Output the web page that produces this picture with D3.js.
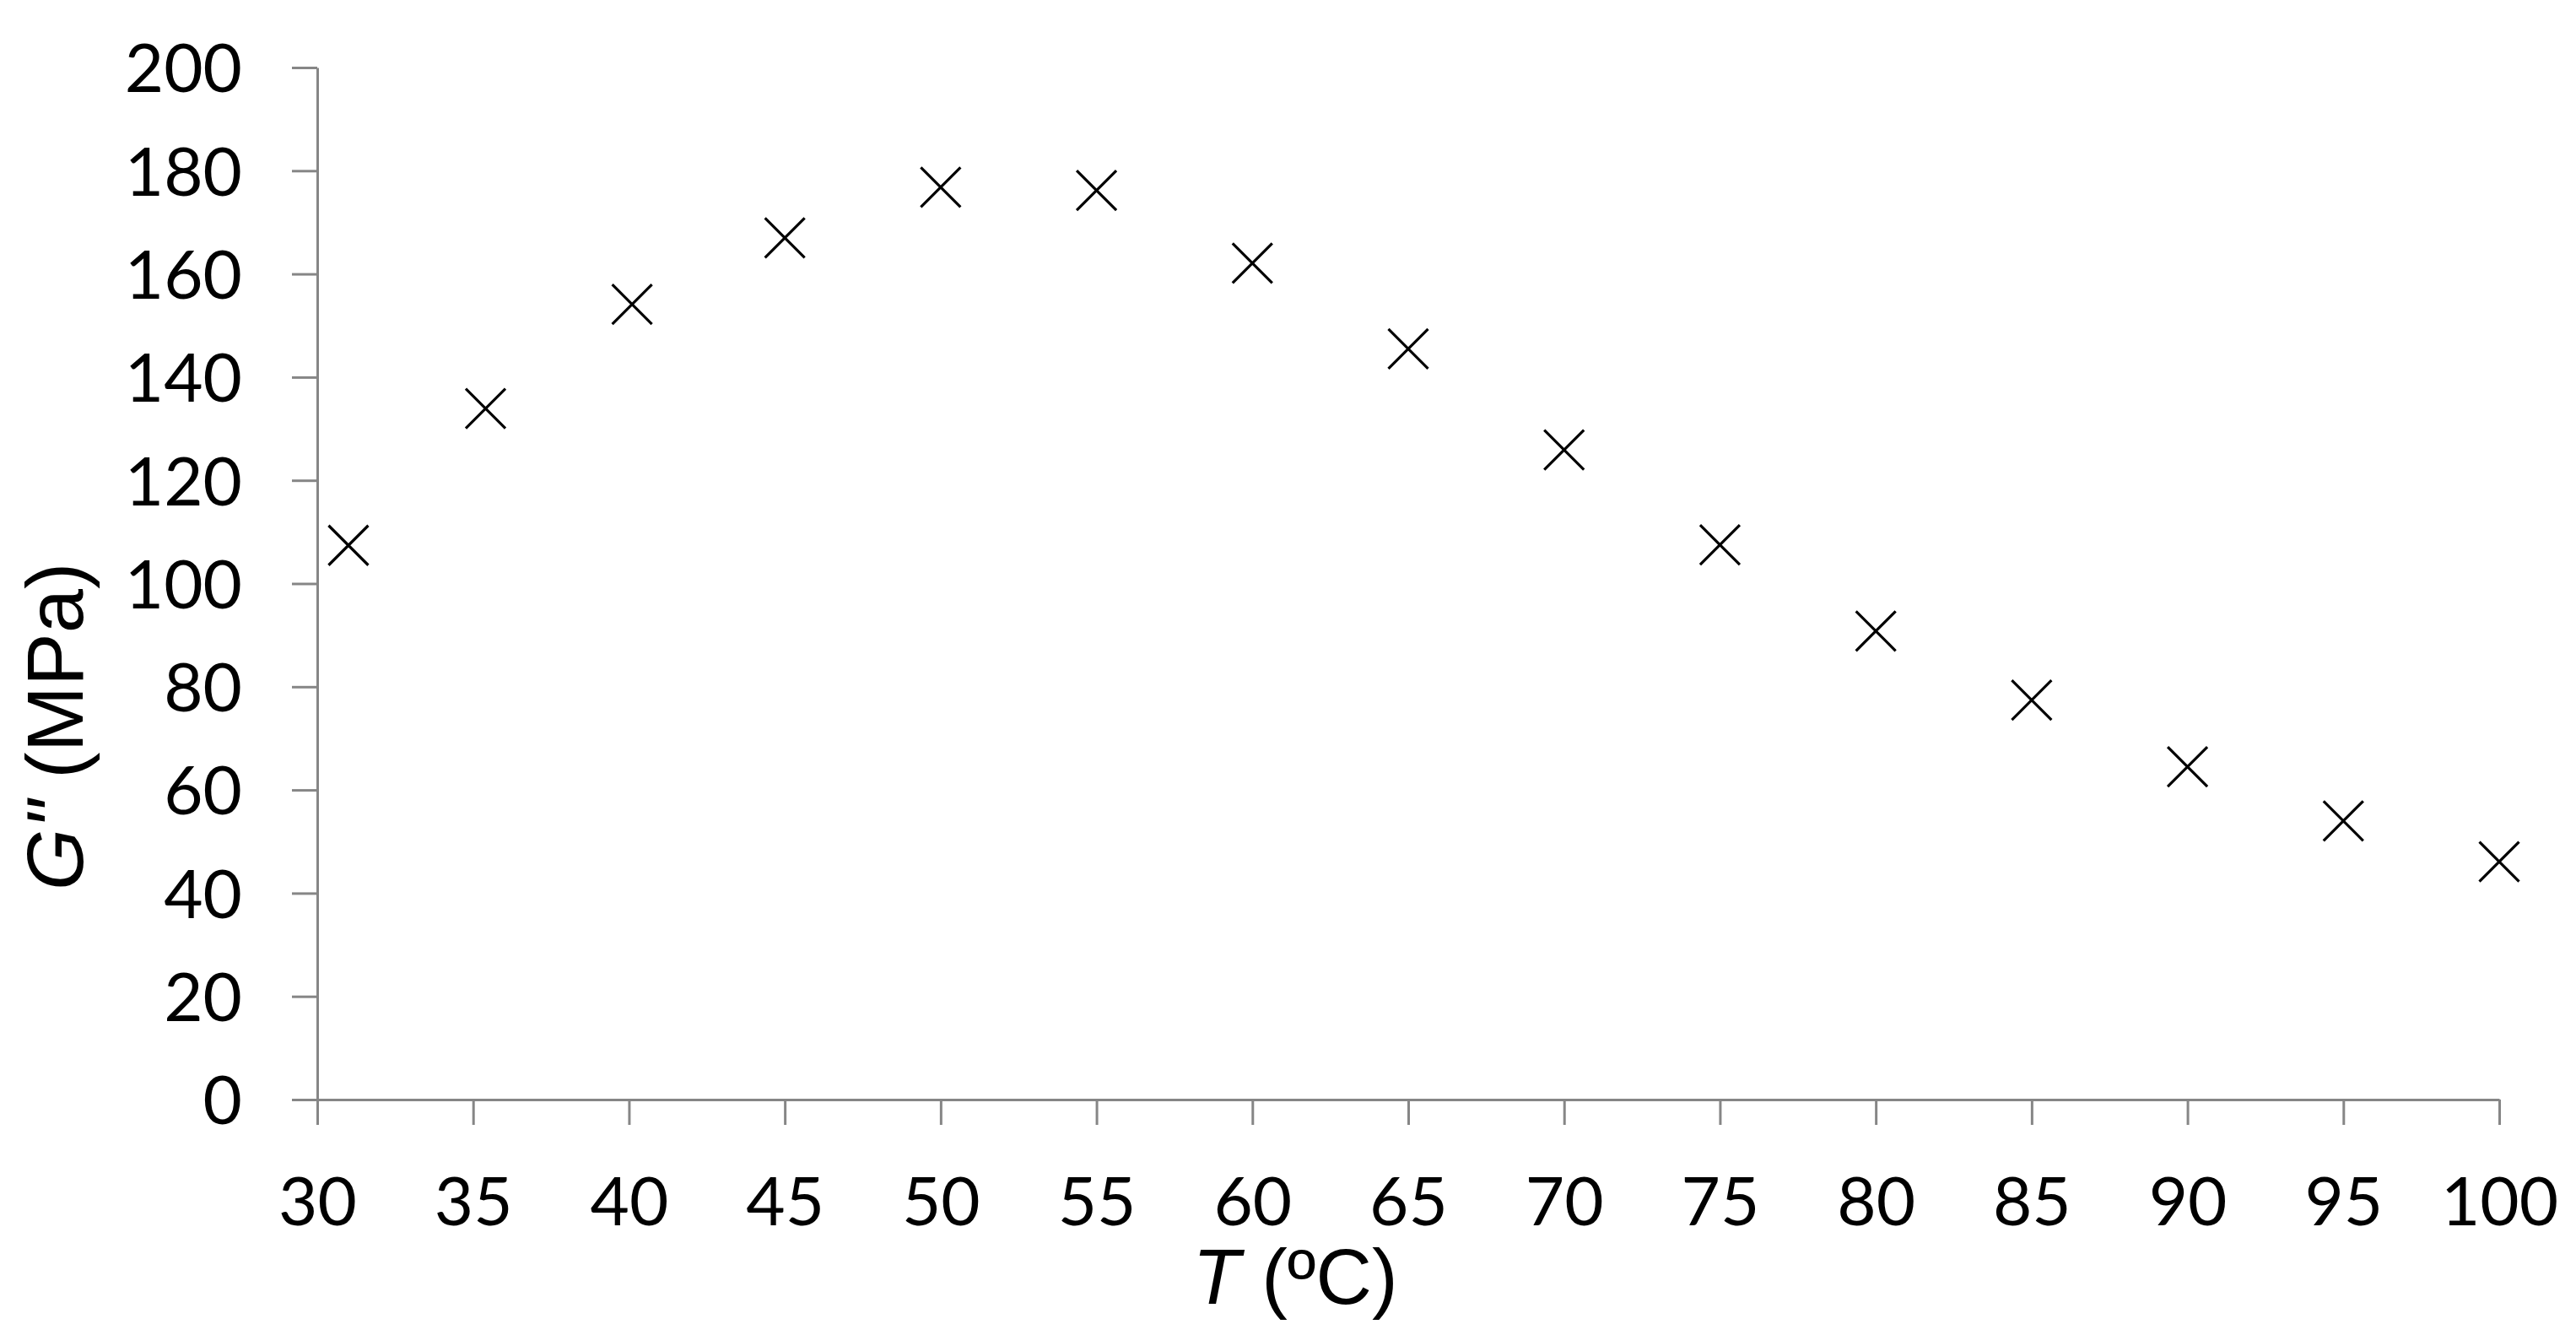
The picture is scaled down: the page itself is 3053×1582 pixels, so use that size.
<!DOCTYPE html>
<html>
<head>
<meta charset="utf-8">
<script src="https://cdn.jsdelivr.net/npm/d3@7"></script>
<style>
  html, body { margin: 0; padding: 0; background: #fff; }
  svg { display: block; }
</style>
</head>
<body>
<div id="chart"></div>
<script>
const width = 3053;
const height = 1582;

// Data
const temperature = [31, 35.4, 40.1, 45, 50, 55, 60, 65, 70, 75, 80, 85, 90, 95, 100];
const lossModulus = [107.4, 133.9, 154.1, 167.0, 176.8, 176.2, 162.1, 145.5, 125.9, 107.5, 90.8, 77.4, 64.5, 54.0, 46.1];
const xTicks = [30, 35, 40, 45, 50, 55, 60, 65, 70, 75, 80, 85, 90, 95, 100];
const yTicks = [0, 20, 40, 60, 80, 100, 120, 140, 160, 180, 200];

const plot = { left: 376, right: 2962, top: 80, bottom: 1303 };
const axisColor = "#868686";
const tickFont = "Lato, 'Open Sans', sans-serif";
const titleFont = "'Liberation Sans', Arial, sans-serif";

const svg = d3.select("#chart")
  .append("svg")
    .attr("width", width)
    .attr("height", height);

const x = d3.scaleLinear()
    .domain([30, 100])
    .range([plot.left, plot.right]);

const y = d3.scaleLinear()
    .domain([0, 200])
    .range([plot.bottom, plot.top]);

// X axis
const xAxis = svg.append("g")
    .attr("transform", `translate(0,${plot.bottom})`)
    .call(d3.axisBottom(x).tickValues(xTicks).tickSize(30).tickSizeOuter(0).tickFormat(d3.format("d")));

// Y axis
const yAxis = svg.append("g")
    .attr("transform", `translate(${plot.left},0)`)
    .call(d3.axisLeft(y).tickValues(yTicks).tickSize(30).tickSizeOuter(0).tickFormat(d3.format("d")));

[xAxis, yAxis].forEach(g => {
  g.select(".domain").attr("stroke", axisColor).attr("stroke-width", 3);
  g.selectAll(".tick line").attr("stroke", axisColor).attr("stroke-width", 3);
  g.selectAll(".tick text")
      .attr("fill", "#000")
      .style("font-family", tickFont)
      .style("font-size", "80px");
});

xAxis.selectAll(".tick text")
    .attr("y", 149)
    .attr("dy", 0);

yAxis.selectAll(".tick text")
    .attr("x", -89)
    .attr("dy", "0.36em");

// Axis titles
const xTitle = svg.append("text")
    .attr("x", 1535)
    .attr("y", 1545)
    .attr("text-anchor", "middle")
    .style("font-family", titleFont)
    .style("font-size", "92px")
    .attr("fill", "#000");
xTitle.append("tspan").style("font-style", "italic").text("T");
xTitle.append("tspan").text(" (ºC)");

const yTitle = svg.append("text")
    .attr("transform", "translate(98,861) rotate(-90)")
    .attr("text-anchor", "middle")
    .style("font-family", titleFont)
    .style("font-size", "94px")
    .attr("fill", "#000");
yTitle.append("tspan").style("font-style", "italic").text("G\"");
yTitle.append("tspan").text(" (MPa)");

// Points drawn as x markers
const half = 23.5;
const markers = svg.append("g")
  .selectAll("path")
  .data(temperature.map((t, i) => ({ t, g: lossModulus[i] })))
  .enter().append("path")
    .attr("transform", d => `translate(${x(d.t)},${y(d.g)})`)
    .attr("d", `M${-half},${-half}L${half},${half}M${-half},${half}L${half},${-half}`)
    .attr("stroke", "#000")
    .attr("stroke-width", 3.2)
    .attr("fill", "none");
</script>
</body>
</html>
